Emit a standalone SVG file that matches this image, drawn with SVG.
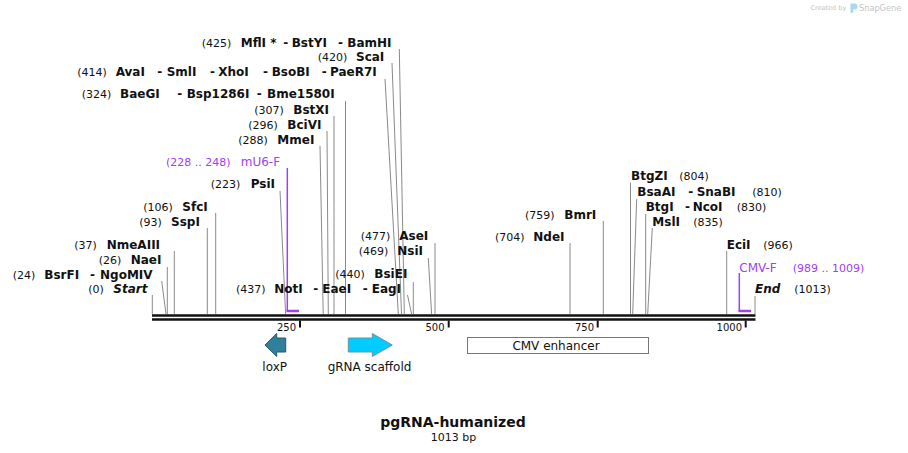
<svg xmlns="http://www.w3.org/2000/svg" width="908" height="453" viewBox="0 0 908 453">
<style>
text{font-family:"DejaVu Sans",Verdana,sans-serif;fill:#111}
.n{font-size:11px}
.b{font-size:12px;font-weight:bold}
.i{font-size:12px;font-weight:bold;font-style:italic}
.pl{font-size:12px;fill:#a040f0}
.pn{font-size:11px;fill:#a040f0}
.cut{stroke:#8a8a8a;stroke-width:1;fill:none}
.prim{stroke:#a040f0;fill:none}
.tick{stroke:#111;stroke-width:2}
.tl{font-size:10px;text-anchor:end}
.f{font-size:12px;text-anchor:middle}
.wm{fill:#c4c4c4}
</style>
<rect width="908" height="453" fill="#fff"/>

<g id="watermark">
<text class="wm" x="810.5" y="10" style="font-size:6.5px">Created by</text>
<path d="M850.5 3.5h4a3 3 0 0 1 0 6h-1.5v3.5h-2.5z" fill="#a9d8ef"/>
<text class="wm" x="859" y="10.5" style="font-size:8.2px">SnapGene</text>
</g>

<g id="backbone">
<line x1="152" y1="315.5" x2="755.5" y2="315.5" stroke="#111" stroke-width="2.6"/>
<line x1="152" y1="319.5" x2="755.5" y2="319.5" stroke="#111" stroke-width="2.6"/>
<line class="tick" x1="300" y1="320.5" x2="300" y2="327.5"/>
<line class="tick" x1="448.7" y1="320.5" x2="448.7" y2="327.5"/>
<line class="tick" x1="597.7" y1="320.5" x2="597.7" y2="327.5"/>
<line class="tick" x1="745.7" y1="320.5" x2="745.7" y2="327.5"/>
<text class="tl" x="296" y="331">250</text>
<text class="tl" x="444.5" y="331">500</text>
<text class="tl" x="594" y="331">750</text>
<text class="tl" x="742" y="331">1000</text>
</g>

<g id="connectors">
<line class="cut" x1="399.3" y1="49" x2="404.3" y2="314"/>
<line class="cut" x1="392" y1="63" x2="401.5" y2="314"/>
<line class="cut" x1="385" y1="79" x2="398.3" y2="314"/>
<line class="cut" x1="345.5" y1="101" x2="345.5" y2="314"/>
<line class="cut" x1="334" y1="116" x2="334" y2="314"/>
<line class="cut" x1="327" y1="131" x2="328.3" y2="314"/>
<line class="cut" x1="320" y1="146" x2="323.2" y2="314"/>
<line class="cut" x1="280" y1="191" x2="285.6" y2="314"/>
<line class="cut" x1="215.7" y1="213" x2="215.7" y2="314"/>
<line class="cut" x1="207.3" y1="228" x2="207.3" y2="314"/>
<line class="cut" x1="174.3" y1="251" x2="174.3" y2="314"/>
<line class="cut" x1="167.3" y1="267" x2="167.3" y2="314"/>
<line class="cut" x1="161.7" y1="281" x2="166" y2="314"/>
<line class="cut" x1="152.3" y1="295" x2="152.3" y2="314"/>
<line class="cut" x1="407.5" y1="295" x2="411.6" y2="314"/>
<line class="cut" x1="413.3" y1="282" x2="413.3" y2="314"/>
<line class="cut" x1="428.3" y1="258" x2="431.6" y2="314"/>
<line class="cut" x1="435" y1="243" x2="435" y2="314"/>
<line class="cut" x1="570" y1="243" x2="570" y2="314"/>
<line class="cut" x1="603.3" y1="221" x2="603.3" y2="314"/>
<line class="cut" x1="630.5" y1="182.5" x2="630.5" y2="314"/>
<line class="cut" x1="636.7" y1="199" x2="632.7" y2="314"/>
<line class="cut" x1="645.7" y1="214" x2="645.7" y2="314"/>
<line class="cut" x1="652.3" y1="228" x2="647.7" y2="314"/>
<line class="cut" x1="726.7" y1="251" x2="726.7" y2="314"/>
<line class="cut" x1="755" y1="296" x2="755" y2="314"/>
<polyline class="prim" stroke-width="1.5" points="287.3,168 287.3,311"/>
<line class="prim" stroke-width="2.5" x1="286.5" y1="311" x2="299" y2="311"/>
<polyline class="prim" stroke-width="1.5" points="739.3,273 739.3,311"/>
<line class="prim" stroke-width="2.5" x1="738.5" y1="311" x2="751" y2="311"/>
</g>

<g id="site-425"><text><tspan class="n" x="201.7" y="47">(425)</tspan><tspan class="b" x="240.7" y="47">MflI *</tspan><tspan class="b" x="283.3" y="47">-</tspan><tspan class="b" x="291.7" y="47">BstYI</tspan><tspan class="b" x="338" y="47">-</tspan><tspan class="b" x="347.3" y="47">BamHI</tspan></text></g>
<g id="site-420"><text><tspan class="n" x="317.7" y="61">(420)</tspan><tspan class="b" x="356" y="61">ScaI</tspan></text></g>
<g id="site-414"><text><tspan class="n" x="77.3" y="76">(414)</tspan><tspan class="b" x="115.7" y="76">AvaI</tspan><tspan class="b" x="157.3" y="76">-</tspan><tspan class="b" x="166.7" y="76">SmlI</tspan><tspan class="b" x="210" y="76">-</tspan><tspan class="b" x="218.3" y="76">XhoI</tspan><tspan class="b" x="263" y="76">-</tspan><tspan class="b" x="271.7" y="76">BsoBI</tspan><tspan class="b" x="321.7" y="76">-</tspan><tspan class="b" x="330" y="76">PaeR7I</tspan></text></g>
<g id="site-324"><text><tspan class="n" x="81.7" y="98">(324)</tspan><tspan class="b" x="120" y="98">BaeGI</tspan><tspan class="b" x="177.3" y="98">-</tspan><tspan class="b" x="186.7" y="98">Bsp1286I</tspan><tspan class="b" x="256.7" y="98">-</tspan><tspan class="b" x="267" y="98">Bme1580I</tspan></text></g>
<g id="site-307"><text><tspan class="n" x="254.3" y="113.5">(307)</tspan><tspan class="b" x="293.3" y="113.5">BstXI</tspan></text></g>
<g id="site-296"><text><tspan class="n" x="248.3" y="129">(296)</tspan><tspan class="b" x="287.3" y="129">BciVI</tspan></text></g>
<g id="site-288"><text><tspan class="n" x="238.3" y="144">(288)</tspan><tspan class="b" x="277.3" y="144">MmeI</tspan></text></g>
<g id="primer-mU6-F"><text><tspan class="pn" x="166" y="165.7">(228 .. 248)</tspan><tspan class="pl" x="240.7" y="165.7">mU6-F</tspan></text></g>
<g id="site-223"><text><tspan class="n" x="210.7" y="188.3">(223)</tspan><tspan class="b" x="250.7" y="188.3">PsiI</tspan></text></g>
<g id="site-106"><text><tspan class="n" x="143.3" y="210.7">(106)</tspan><tspan class="b" x="182.3" y="210.7">SfcI</tspan></text></g>
<g id="site-93"><text><tspan class="n" x="139.3" y="225.7">(93)</tspan><tspan class="b" x="171" y="225.7">SspI</tspan></text></g>
<g id="site-37"><text><tspan class="n" x="74.3" y="249">(37)</tspan><tspan class="b" x="106.7" y="249">NmeAIII</tspan></text></g>
<g id="site-26"><text><tspan class="n" x="98.7" y="264">(26)</tspan><tspan class="b" x="130.7" y="264">NaeI</tspan></text></g>
<g id="site-24"><text><tspan class="n" x="12.7" y="279">(24)</tspan><tspan class="b" x="44.3" y="279">BsrFI</tspan><tspan class="b" x="90" y="279">-</tspan><tspan class="b" x="100" y="279">NgoMIV</tspan></text></g>
<g id="site-start"><text><tspan class="n" x="88.3" y="293.3">(0)</tspan><tspan class="i" x="113.3" y="293.3">Start</tspan></text></g>
<g id="site-477"><text><tspan class="n" x="360.7" y="240">(477)</tspan><tspan class="b" x="399.3" y="240">AseI</tspan></text></g>
<g id="site-469"><text><tspan class="n" x="358.7" y="255">(469)</tspan><tspan class="b" x="397.3" y="255">NsiI</tspan></text></g>
<g id="site-440"><text><tspan class="n" x="335.3" y="278.3">(440)</tspan><tspan class="b" x="374.3" y="278.3">BsiEI</tspan></text></g>
<g id="site-437"><text><tspan class="n" x="236" y="293.3">(437)</tspan><tspan class="b" x="274.3" y="293.3">NotI</tspan><tspan class="b" x="313.3" y="293.3">-</tspan><tspan class="b" x="322.3" y="293.3">EaeI</tspan><tspan class="b" x="362.7" y="293.3">-</tspan><tspan class="b" x="371.7" y="293.3">EagI</tspan></text></g>
<g id="site-759"><text><tspan class="n" x="525" y="219.3">(759)</tspan><tspan class="b" x="564.3" y="219.3">BmrI</tspan></text></g>
<g id="site-704"><text><tspan class="n" x="495" y="241">(704)</tspan><tspan class="b" x="533.3" y="241">NdeI</tspan></text></g>
<g id="site-804"><text><tspan class="b" x="631" y="180">BtgZI</tspan><tspan class="n" x="679.3" y="180">(804)</tspan></text></g>
<g id="site-810"><text><tspan class="b" x="637.3" y="195.7">BsaAI</tspan><tspan class="b" x="688.3" y="195.7">-</tspan><tspan class="b" x="696.7" y="195.7">SnaBI</tspan><tspan class="n" x="752.3" y="195.7">(810)</tspan></text></g>
<g id="site-830"><text><tspan class="b" x="645.7" y="210.7">BtgI</tspan><tspan class="b" x="685" y="210.7">-</tspan><tspan class="b" x="692.7" y="210.7">NcoI</tspan><tspan class="n" x="736.7" y="210.7">(830)</tspan></text></g>
<g id="site-835"><text><tspan class="b" x="652.3" y="225.7">MslI</tspan><tspan class="n" x="693.3" y="225.7">(835)</tspan></text></g>
<g id="site-966"><text><tspan class="b" x="726.7" y="249">EciI</tspan><tspan class="n" x="763.3" y="249">(966)</tspan></text></g>
<g id="primer-CMV-F"><text><tspan class="pl" x="739.3" y="271.7">CMV-F</tspan><tspan class="pn" x="792.7" y="271.7">(989 .. 1009)</tspan></text></g>
<g id="site-end"><text><tspan class="i" x="755" y="293.3">End</tspan><tspan class="n" x="794.3" y="293.3">(1013)</tspan></text></g>

<g id="feature-loxP">
<polygon points="265,345 276.7,333.5 276.7,338 285.7,338 285.7,352 276.7,352 276.7,356.5" fill="#31809b" stroke="#1e5c6e" stroke-width="1"/>
<text class="f" x="274.7" y="370.5">loxP</text>
</g>
<g id="feature-gRNA-scaffold">
<polygon points="348.3,338 372.3,338 372.3,333.5 392.3,345 372.3,356.5 372.3,352 348.3,352" fill="#00ccff" stroke="#6f93a0" stroke-width="1"/>
<text class="f" x="369.5" y="370.5">gRNA scaffold</text>
</g>
<g id="feature-CMV-enhancer">
<rect x="467.5" y="337.5" width="181" height="16" fill="#fff" stroke="#777" stroke-width="1"/>
<text class="f" x="556" y="349.5">CMV enhancer</text>
</g>

<g id="title">
<text x="453" y="426.5" text-anchor="middle" style="font-size:14px;font-weight:bold">pgRNA-humanized</text>
<text x="453.5" y="440.5" text-anchor="middle" style="font-size:11px">1013 bp</text>
</g>
</svg>
